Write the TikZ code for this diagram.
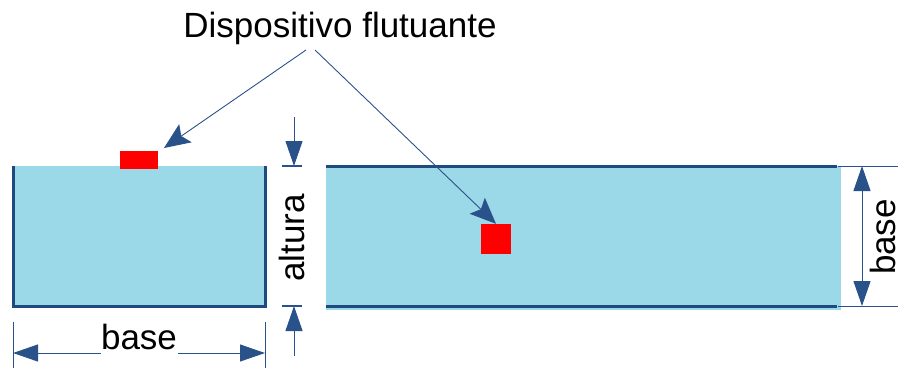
\documentclass[tikz,border=0pt]{standalone}
\usepackage{fontspec}
\setmainfont{Liberation Sans}
\usetikzlibrary{arrows.meta}
\definecolor{water}{HTML}{9BD8E8}
\definecolor{wall}{HTML}{1F4A7E}
\definecolor{dimc}{HTML}{2A528A}
\begin{document}
\begin{tikzpicture}[x=1pt,y=-1pt,
  wallline/.style={draw=wall,line width=3pt},
  dimline/.style={draw=dimc,line width=1pt},
  tickline/.style={draw=dimc,line width=1.5pt},
  dimarrow/.style={dimline,-{Triangle[length=25pt,width=17pt]}},
  dimboth/.style={dimline,{Triangle[length=25pt,width=17pt]}-{Triangle[length=25pt,width=17pt]}},
  pointer/.style={dimline,line width=0.9pt,-{Stealth[length=26pt,width=22pt,inset=5pt]}},
  device/.style={fill=red,draw=none,inner sep=0pt},
  lbl/.style={font=\fontsize{35}{40}\selectfont,inner sep=0pt}]
\useasboundingbox (0,0) rectangle (904,368);
% tanks
\fill[water] (13,166) rectangle (265,306);
\draw[wallline] (13,166) -- (13,306) -- (265,306) -- (265,166);
\fill[water] (326,166) rectangle (841,310);
\draw[wallline] (326,166) -- (837,166);
\draw[wallline] (326,306) -- (837,306);
% devices
\node[device,minimum width=38pt,minimum height=18pt] (devL) at (139,160) {};
\node[device,minimum width=30pt,minimum height=30pt] (devR) at (496,239) {};
% title and pointers
\node[lbl] (title) at (340,28) {Dispositivo flutuante};
\coordinate (pL) at (306,50);
\coordinate (pR) at (315,50);
\coordinate (tipL) at (164,148);
\draw[pointer] (pL) -- (tipL);
\draw[pointer] (pR) -- (devR.north);
% altura dimension
\coordinate (aT1) at (282,166); \coordinate (aT2) at (302,166);
\coordinate (aB1) at (282,306); \coordinate (aB2) at (302,306);
\coordinate (aTs) at (294,117); \coordinate (aTe) at (294,166);
\coordinate (aBs) at (294,356); \coordinate (aBe) at (294,306);
\draw[tickline] (aT1) -- (aT2);
\draw[tickline] (aB1) -- (aB2);
\draw[dimarrow] (aTs) -- (aTe);
\draw[dimarrow] (aBs) -- (aBe);
\node[lbl,rotate=90] (altura) at (292,238) {altura};
% bottom base dimension
\coordinate (e1a) at (13,322); \coordinate (e1b) at (13,368);
\coordinate (e2a) at (265,322); \coordinate (e2b) at (265,368);
\draw[dimline] (e1a) -- (e1b);
\draw[dimline] (e2a) -- (e2b);
\node[lbl] (baseB) at (139,337) {base};
\coordinate (bL) at (13,353); \coordinate (bR) at (265,353);
\coordinate (bLs) at (101,353); \coordinate (bRs) at (178,353);
\draw[dimarrow] (bLs) -- (bL);
\draw[dimarrow] (bRs) -- (bR);
% right base dimension
\coordinate (r1a) at (838,166); \coordinate (r1b) at (898,166);
\coordinate (r2a) at (838,306); \coordinate (r2b) at (898,306);
\draw[dimline] (r1a) -- (r1b);
\draw[dimline] (r2a) -- (r2b);
\coordinate (rT) at (862,166); \coordinate (rB) at (862,306);
\draw[dimboth] (rT) -- (rB);
\node[lbl,rotate=90] (baseR) at (883,237) {base};
\end{tikzpicture}
\end{document}
